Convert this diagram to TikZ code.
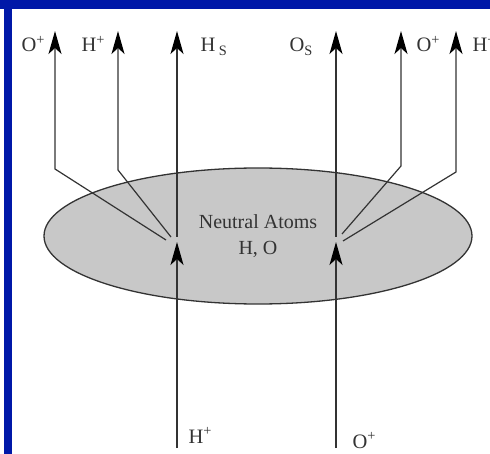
\documentclass[tikz,border=0pt]{standalone}
\usepackage{fontspec}
\setmainfont{Liberation Serif}
\usetikzlibrary{arrows.meta,shapes.geometric}
\definecolor{frameblue}{HTML}{0018A8}
\definecolor{cloudgray}{HTML}{C8C8C8}
\definecolor{ink}{HTML}{333333}
\newcommand{\ion}[1]{#1\textsuperscript{+}}

\begin{document}
\begin{tikzpicture}[x=1pt, y=-1pt, line width=1.2pt,
  flow/.style={draw=ink, -{Stealth[length=23pt, width=13pt, inset=6pt, color=black]}},
  lbl/.style={anchor=base west, inner sep=0pt, text=ink, font=\fontsize{20.5}{24}\selectfont}]
  \useasboundingbox (0,0) rectangle (490,454);
  % neutral atom cloud
  \node[ellipse, draw=ink, line width=1.3pt, fill=cloudgray, minimum width=428pt, minimum height=136pt,
        align=center, text=ink, font=\fontsize{20}{26}\selectfont] (cloud) at (258,236) {Neutral Atoms\\H, O};
  % where the ions meet the cloud
  \coordinate (hhit) at (177,242);
  \coordinate (ohit) at (336,242);
  \coordinate (hsrc) at (177,448);
  \coordinate (osrc) at (336,448);
  \coordinate (otlend) at (55,31);
  \coordinate (htlend) at (118,31);
  \coordinate (hsend) at (177,31);
  \coordinate (osend) at (336,31);
  \coordinate (otrend) at (401,31);
  \coordinate (htrend) at (456,31);
  % incoming ions
  \draw[flow] (hsrc) -- (hhit);
  \draw[flow] (osrc) -- (ohit);
  % outgoing particles
  \draw[flow] ([shift={(-11,-2)}]hhit) -- (55,169) -- (otlend);
  \draw[flow] ([shift={(-6,-5)}]hhit) -- (118,170) -- (htlend);
  \draw[flow] ([shift={(0,-5)}]hhit) -- (hsend);
  \draw[flow] ([shift={(0,-5)}]ohit) -- (osend);
  \draw[flow] ([shift={(6,-8)}]ohit) -- (401,166) -- (otrend);
  \draw[flow] ([shift={(7,-1)}]ohit) -- (456,172) -- (htrend);
  % labels
  \node[lbl] (otl) at (21,52) {\ion{O}};
  \node[lbl] (htl) at (81,52) {\ion{H}};
  \node[lbl] (hs) at (200,52) {H\,\textsubscript{S}};
  \node[lbl] (os) at (289,52) {O\textsubscript{S}};
  \node[lbl] (otr) at (416,52) {\ion{O}};
  \node[lbl] (htr) at (472,52) {\ion{H}};
  \node[lbl] (hb) at (188,443) {\ion{H}};
  \node[lbl] (ob) at (352,448) {\ion{O}};
  % frame
  \fill[frameblue] (0,0) rectangle (490,9);
  \fill[frameblue] (4,0) rectangle (12,454);
\end{tikzpicture}
\end{document}
